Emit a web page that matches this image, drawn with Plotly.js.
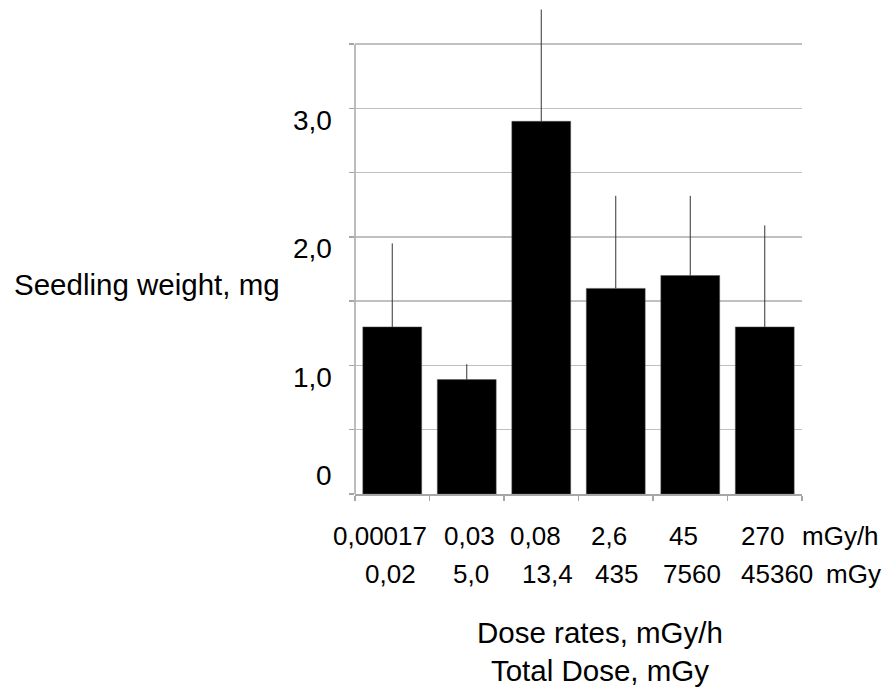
<!DOCTYPE html>
<html>
<head>
<meta charset="utf-8">
<script src="https://cdn.plot.ly/plotly-3.0.1.min.js"></script>
<style>html,body{margin:0;padding:0;background:#fff;}#chart{width:893px;height:687px;}</style>
</head>
<body>
<div id="chart"></div>
<script>
// Data
const doseRates = ["0,00017", "0,03", "0,08", "2,6", "45", "270"];
const totalDoses = ["0,02", "5,0", "13,4", "435", "7560", "45360"];
const weights = [1.30, 0.89, 2.90, 1.60, 1.70, 1.30];
const errorsUp = [0.65, 0.12, 0.87, 0.72, 0.62, 0.79];
const yTickVals = [0, 1, 2, 3];
const yTickText = ["0", "1,0", "2,0", "3,0"];

const FONT = "Liberation Sans, Arial, sans-serif";
const GRID = "#c0c0c0";
const AXIS = "#a6a6a6";

// label nudges (pixels), as typed in the original text rows
const row1Shift = [-12, 3, -6, -7, -7, -2];
const row2Shift = [-2, 4, 6, 1, 2, 12];

// positions of categories along the x axis (index of each dose rate)
const xPos = doseRates.map((_, i) => i);

const trace = {
  type: "bar",
  x: xPos,
  y: weights,
  width: 0.79,
  marker: {color: "#000000", line: {color: "#555555", width: 0.5}},
  error_y: {
    type: "data", symmetric: false,
    array: errorsUp, arrayminus: weights.map(() => 0),
    color: "#333333", thickness: 1, width: 0
  },
  hoverinfo: "skip"
};

const annotations = [];
// y tick labels
yTickVals.forEach((v, i) => {
  annotations.push({
    xref: "paper", x: 0, xanchor: "right", xshift: -21,
    yref: "y", y: v, yanchor: "middle", yshift: v === 0 ? 19 : -12,
    text: yTickText[i], showarrow: false,
    font: {family: FONT, size: 28, color: "#000"}
  });
});
// first row of x labels (dose rates)
doseRates.forEach((t, i) => {
  annotations.push({
    xref: "x", x: xPos[i], xanchor: "center", xshift: row1Shift[i],
    yref: "paper", y: -0.0859, yanchor: "middle",
    text: t, showarrow: false,
    font: {family: FONT, size: 26, color: "#000"}
  });
});
// second row of x labels (total dose)
totalDoses.forEach((t, i) => {
  annotations.push({
    xref: "x", x: xPos[i], xanchor: "center", xshift: row2Shift[i],
    yref: "paper", y: -0.1636, yanchor: "middle",
    text: t, showarrow: false,
    font: {family: FONT, size: 26, color: "#000"}
  });
});
annotations.push({
  xref: "paper", x: 0.9955, xanchor: "left", yref: "paper", y: -0.0859, yanchor: "middle",
  text: "mGy/h", showarrow: false, font: {family: FONT, size: 26, color: "#000"}
});
annotations.push({
  xref: "paper", x: 1.049, xanchor: "left", yref: "paper", y: -0.1636, yanchor: "middle",
  text: "mGy", showarrow: false, font: {family: FONT, size: 26, color: "#000"}
});
// axis titles
annotations.push({
  xref: "paper", x: 0.548, xanchor: "center", yref: "paper", y: -0.322, yanchor: "middle",
  text: "Dose rates, mGy/h<br>Total Dose, mGy", showarrow: false, align: "center",
  font: {family: FONT, size: 29.5, color: "#000"}
});
annotations.push({
  xref: "paper", x: -0.767, xanchor: "left", yref: "paper", y: 0.4294, yanchor: "middle",
  text: "Seedling weight, mg", showarrow: false,
  font: {family: FONT, size: 29.5, color: "#000"}
});

const layout = {
  width: 893, height: 687,
  margin: {l: 355, r: 91, t: 5, b: 193},
  paper_bgcolor: "#fff", plot_bgcolor: "#fff",
  showlegend: false,
  xaxis: {
    type: "linear",
    range: [-0.5, 5.5],
    tickvals: xPos, showticklabels: false,
    showline: true, linecolor: AXIS, linewidth: 1.5,
    ticks: "", ticklen: 0,
    minor: {ticks: "outside", tick0: 0.5, dtick: 1, ticklen: 5, tickcolor: AXIS, tickwidth: 1.5, showgrid: false},
    showgrid: false, zeroline: false
  },
  yaxis: {
    range: [0, 3.805],
    dtick: 0.5, tick0: 0,
    showticklabels: false,
    ticks: "outside", ticklen: 5, tickcolor: AXIS, tickwidth: 1.5,
    showgrid: true, gridcolor: GRID, gridwidth: 1.5,
    zeroline: false, showline: false
  },
  shapes: [{
    type: "line", xref: "paper", yref: "y",
    x0: 0, x1: 0, y0: 0, y1: 3.5,
    line: {color: AXIS, width: 1.5}
  }],
  annotations: annotations
};

Plotly.newPlot("chart", [trace], layout, {displayModeBar: false, staticPlot: true});
</script>
</body>
</html>
